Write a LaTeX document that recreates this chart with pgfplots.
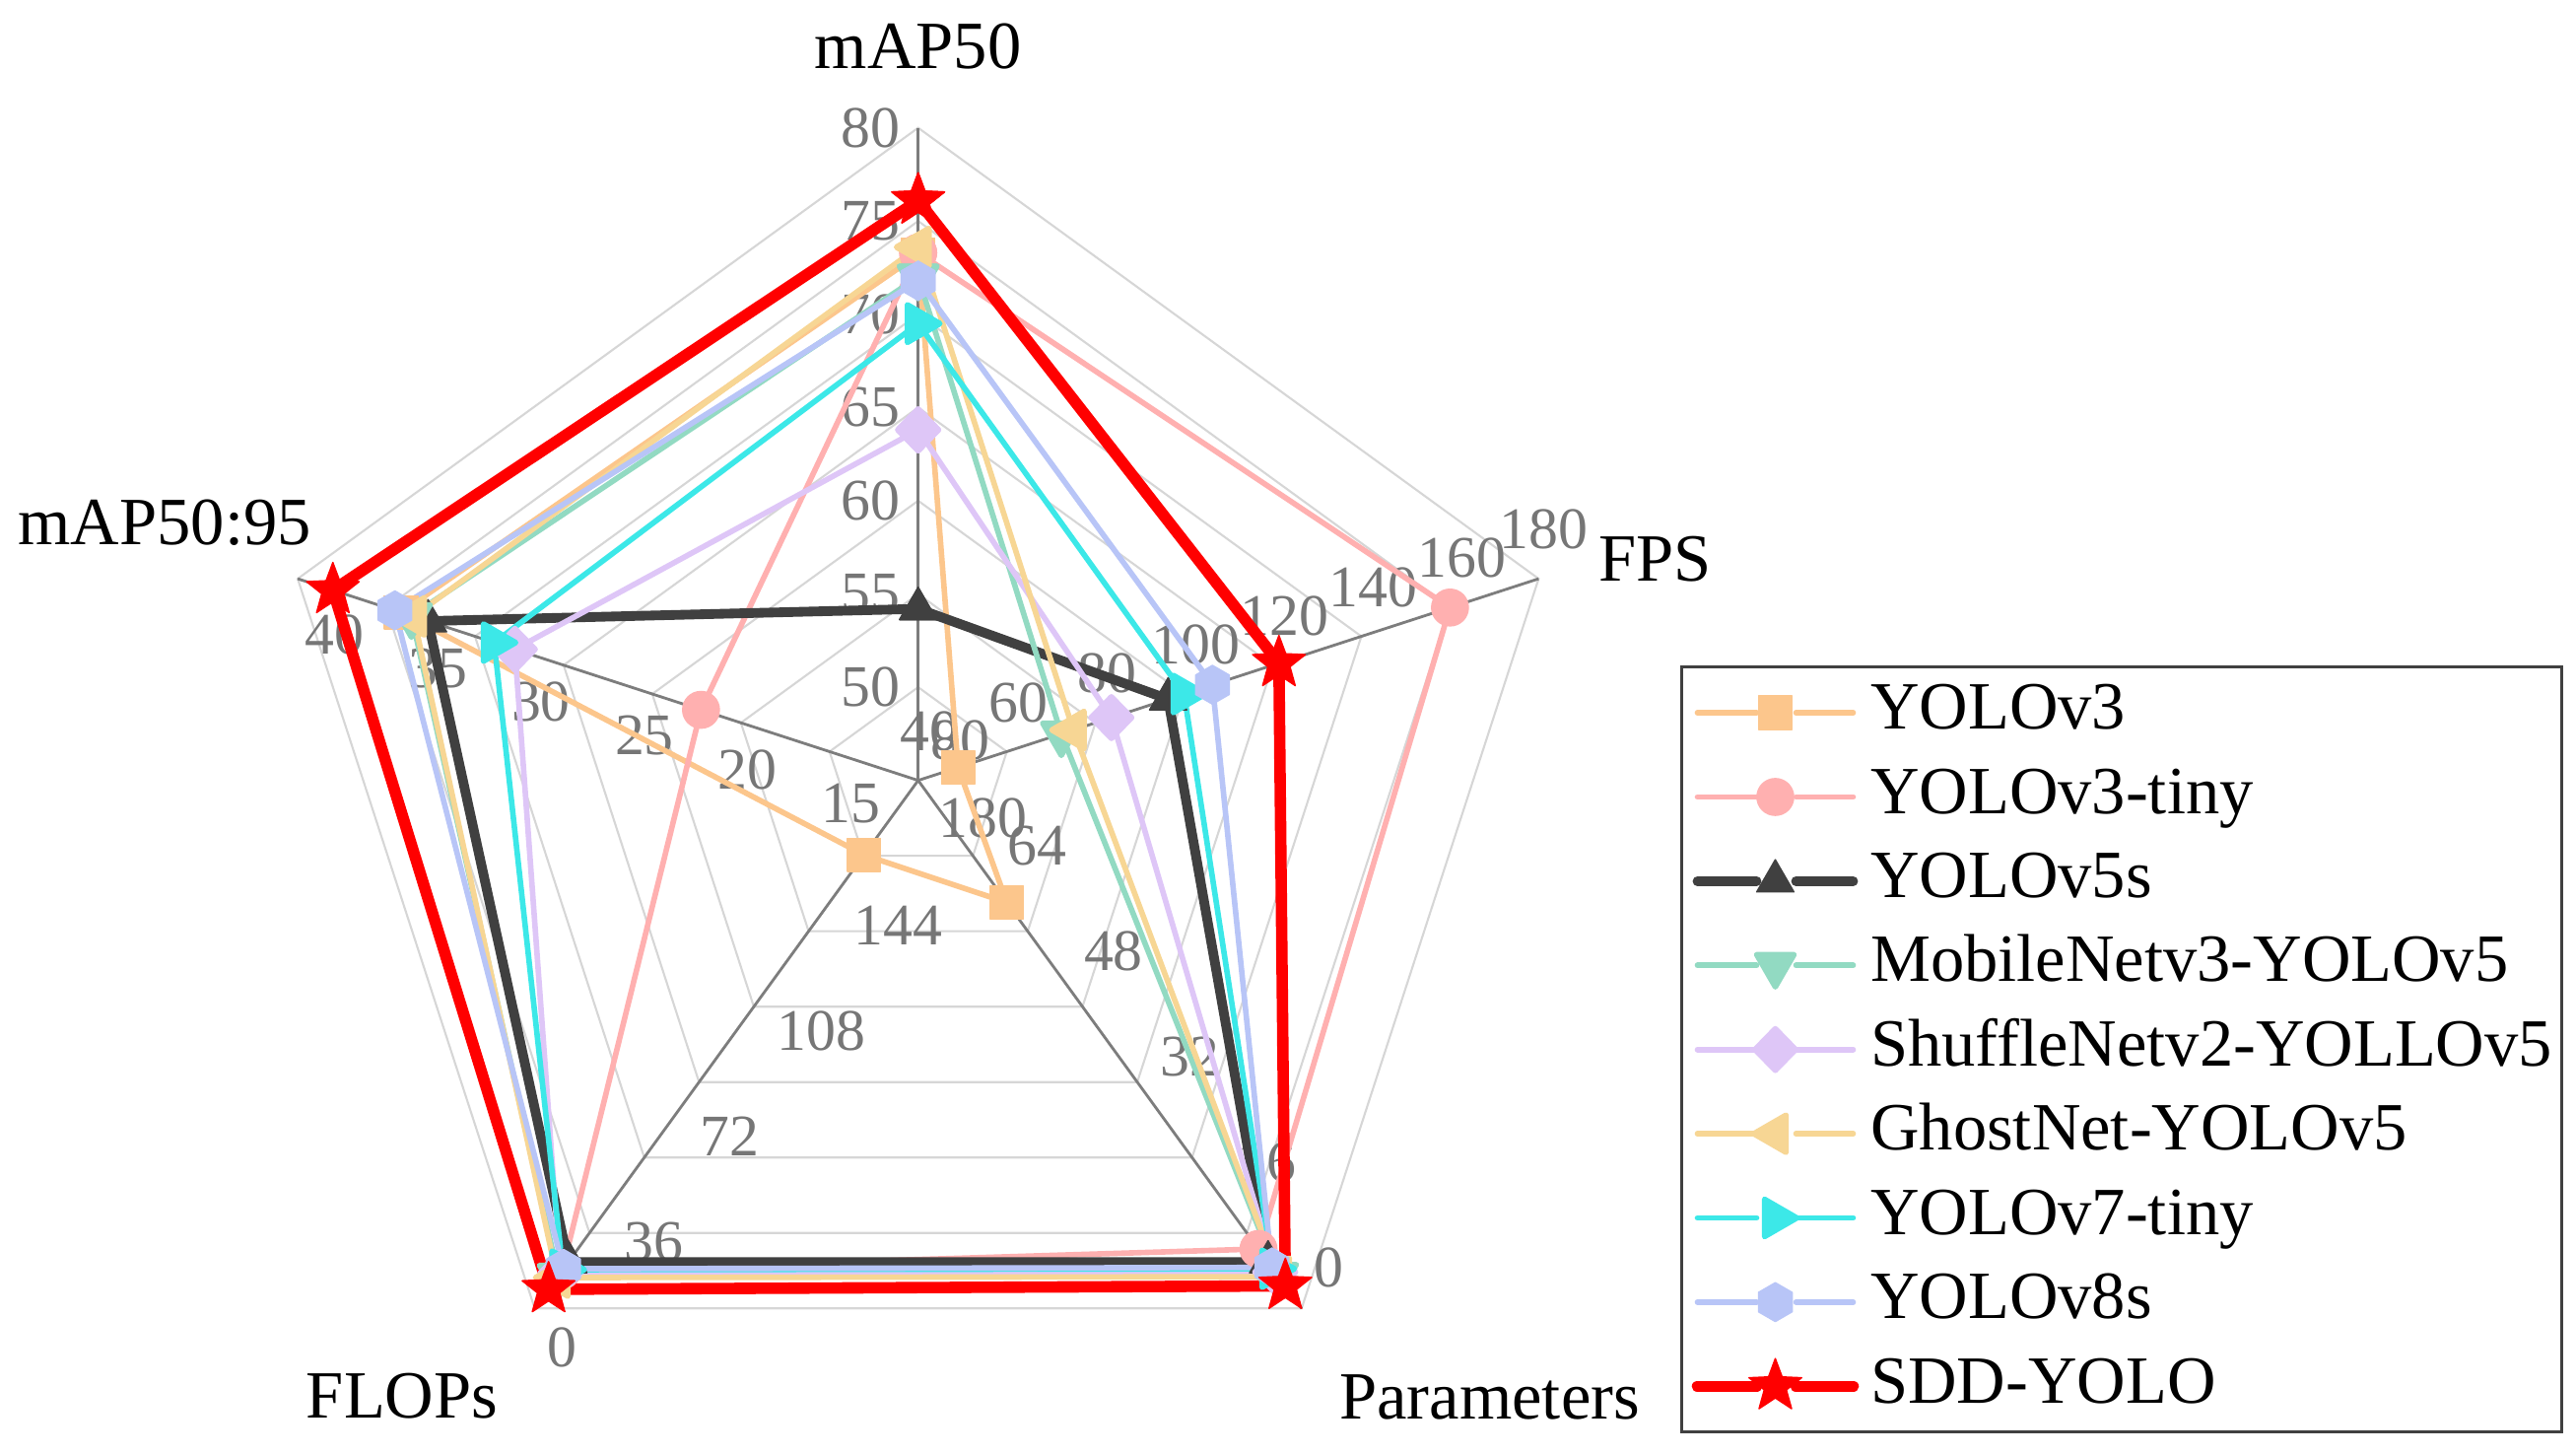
\documentclass[border=0pt]{standalone}
\usepackage{fontspec}
\setmainfont{Liberation Serif}
\usepackage{pgfplots}
\usepackage{pgfplotstable}
\pgfplotsset{compat=1.18}
\usetikzlibrary{plotmarks}

\definecolor{cA}{RGB}{252,198,140}
\definecolor{cB}{RGB}{255,176,176}
\definecolor{cC}{RGB}{64,64,64}
\definecolor{cD}{RGB}{146,218,194}
\definecolor{cE}{RGB}{222,198,247}
\definecolor{cF}{RGB}{247,214,148}
\definecolor{cG}{RGB}{60,232,232}
\definecolor{cH}{RGB}{184,197,247}
\definecolor{cI}{RGB}{255,0,0}
\definecolor{ringc}{RGB}{214,214,214}
\definecolor{spokec}{RGB}{125,125,125}
\definecolor{tickc}{RGB}{118,118,118}

\pgfdeclareplotmark{hexagon*}{%
  \pgfpathmoveto{\pgfpointpolar{90}{\pgfplotmarksize}}%
  \pgfpathlineto{\pgfpointpolar{150}{\pgfplotmarksize}}%
  \pgfpathlineto{\pgfpointpolar{210}{\pgfplotmarksize}}%
  \pgfpathlineto{\pgfpointpolar{270}{\pgfplotmarksize}}%
  \pgfpathlineto{\pgfpointpolar{330}{\pgfplotmarksize}}%
  \pgfpathlineto{\pgfpointpolar{30}{\pgfplotmarksize}}%
  \pgfpathclose\pgfusepathqfillstroke}
\pgfdeclareplotmark{fstar}{%
  \pgfpathmoveto{\pgfpointpolar{90}{\pgfplotmarksize}}%
  \pgfpathlineto{\pgfpointpolar{126}{0.42*\pgfplotmarksize}}%
  \pgfpathlineto{\pgfpointpolar{162}{\pgfplotmarksize}}%
  \pgfpathlineto{\pgfpointpolar{198}{0.42*\pgfplotmarksize}}%
  \pgfpathlineto{\pgfpointpolar{234}{\pgfplotmarksize}}%
  \pgfpathlineto{\pgfpointpolar{270}{0.42*\pgfplotmarksize}}%
  \pgfpathlineto{\pgfpointpolar{306}{\pgfplotmarksize}}%
  \pgfpathlineto{\pgfpointpolar{342}{0.42*\pgfplotmarksize}}%
  \pgfpathlineto{\pgfpointpolar{18}{\pgfplotmarksize}}%
  \pgfpathlineto{\pgfpointpolar{54}{0.42*\pgfplotmarksize}}%
  \pgfpathclose\pgfusepathqfillstroke}

% rows: radar axes (angle, value at centre, value at rim); columns: models
\pgfplotstableread{
ang  lo  hi  v3    v3t   v5s   mob   shf   gho   v7t   v8s   sdd
90   45  80  73.2  73.3  54.2  72.0  63.8  73.6  69.5  71.8  76.1
18   40  180 49    160   96.4  72.3  83.6  75.0  100   106.4 121.4
-54  80  0   61.5  9.0   7.0   5.0   5.5   4.8   6.0   6.2   3.4
-126 180 0   154.6 12.9  15.8  11.0  12.0  10.5  13.2  13.5  6.5
162  10  40  35.0  20.5  33.7  34.5  29.5  34.4  30.5  35.3  38.3
90   45  80  73.2  73.3  54.2  72.0  63.8  73.6  69.5  71.8  76.1
}\radardata

\newcommand\rr[1]{((\thisrow{#1}-\thisrow{lo})/(\thisrow{hi}-\thisrow{lo}))}
\newcommand\rp[2]{(axis cs:{(#1)*cos(#2)},{(#1)*sin(#2)})}

\tikzset{
  tlab/.style={font=\fontsize{17}{20}\selectfont, text=tickc, inner sep=0pt},
  ttl/.style={font=\fontsize{19.5}{23}\selectfont, text=black, inner sep=0pt},
}
\pgfplotsset{
  ser/.style={color=#1, line width=1.6pt, line join=round, line cap=round,
    mark options={solid, fill=#1, draw=#1, line width=0.4pt}},
}

\begin{document}
\begin{tikzpicture}
\begin{axis}[
  x=6.62cm, y=6.62cm,
  xmin=-1.4074, xmax=2.5412, ymin=-1.0337, ymax=1.1959,
  enlargelimits=false,
  hide axis, clip=false,
  legend cell align=left,
  legend image code/.code={%
    \draw[#1,mark=none] (0cm,0cm) -- (0.6cm,0cm);
    \draw[#1,mark=none] (1.0cm,0cm) -- (1.58cm,0cm);
    \draw[#1,only marks] plot coordinates {(0.79cm,0cm)};
  },
  legend style={
    at={(0.6523,0.5427)}, anchor=north west,
    draw=black!75, line width=0.9pt, fill=white,
    font=\fontsize{19.5}{23}\selectfont,
    inner xsep=0.1cm, inner ysep=0.14cm,
    row sep=5.8pt, column sep=0.12cm,
    nodes={inner sep=0pt, text height=14pt, text depth=4.5pt},
  },
]
\path (rel axis cs:0,0) rectangle (rel axis cs:1,1);

% grid rings
\pgfplotsinvokeforeach{1,...,7}{
  \draw[ringc, line width=0.6pt] \rp{#1/7}{90} -- \rp{#1/7}{18} -- \rp{#1/7}{-54} -- \rp{#1/7}{-126} -- \rp{#1/7}{162} -- cycle;
}
% spokes
\draw[spokec, line width=0.8pt] \rp{0}{0} -- \rp{1}{90};
\draw[spokec, line width=0.8pt] \rp{0}{0} -- \rp{1}{18};
\draw[spokec, line width=0.8pt] \rp{0}{0} -- \rp{1}{-54};
\draw[spokec, line width=0.8pt] \rp{0}{0} -- \rp{1}{-126};
\draw[spokec, line width=0.8pt] \rp{0}{0} -- \rp{1}{162};

% tick labels: mAP50
\node[tlab, anchor=east, xshift=-0.18cm] at \rp{1/7}{90} {50};
\node[tlab, anchor=east, xshift=-0.18cm] at \rp{2/7}{90} {55};
\node[tlab, anchor=east, xshift=-0.18cm] at \rp{3/7}{90} {60};
\node[tlab, anchor=east, xshift=-0.18cm] at \rp{4/7}{90} {65};
\node[tlab, anchor=east, xshift=-0.18cm] at \rp{5/7}{90} {70};
\node[tlab, anchor=east, xshift=-0.18cm] at \rp{6/7}{90} {75};
\node[tlab, anchor=east, xshift=-0.18cm] at \rp{1}{90} {80};
% FPS
\node[tlab, xshift=0.12cm, yshift=0.5cm] at \rp{0}{18} {40};
\node[tlab, xshift=0.12cm, yshift=0.5cm] at \rp{1/7}{18} {60};
\node[tlab, xshift=0.12cm, yshift=0.5cm] at \rp{2/7}{18} {80};
\node[tlab, xshift=0.12cm, yshift=0.5cm] at \rp{3/7}{18} {100};
\node[tlab, xshift=0.12cm, yshift=0.5cm] at \rp{4/7}{18} {120};
\node[tlab, xshift=0.12cm, yshift=0.5cm] at \rp{5/7}{18} {140};
\node[tlab, xshift=0.12cm, yshift=0.5cm] at \rp{6/7}{18} {160};
\node[tlab, xshift=0.05cm, yshift=0.5cm] at \rp{1}{18} {180};
% Parameters
\node[tlab, anchor=west, xshift=0.12cm, yshift=0.41cm] at \rp{0}{-54} {80};
\node[tlab, anchor=west, xshift=0.12cm, yshift=0.41cm] at \rp{0.2}{-54} {64};
\node[tlab, anchor=west, xshift=0.12cm, yshift=0.41cm] at \rp{0.4}{-54} {48};
\node[tlab, anchor=west, xshift=0.12cm, yshift=0.41cm] at \rp{0.6}{-54} {32};
\node[tlab, anchor=west, xshift=0.12cm, yshift=0.41cm] at \rp{0.8}{-54} {16};
\node[tlab, anchor=west, xshift=0.12cm, yshift=0.41cm] at \rp{1}{-54} {0};
% FLOPs
\node[tlab, anchor=west, xshift=0.2cm, yshift=-0.38cm] at \rp{0}{-126} {180};
\node[tlab, anchor=west, xshift=0.12cm, yshift=-0.4cm] at \rp{0.2}{-126} {144};
\node[tlab, anchor=west, xshift=0.12cm, yshift=-0.4cm] at \rp{0.4}{-126} {108};
\node[tlab, anchor=west, xshift=0.12cm, yshift=-0.4cm] at \rp{0.6}{-126} {72};
\node[tlab, anchor=west, xshift=0.12cm, yshift=-0.4cm] at \rp{0.8}{-126} {36};
\node[tlab, anchor=west, xshift=0.12cm, yshift=-0.4cm] at \rp{1}{-126} {0};
% mAP50:95
\node[tlab, xshift=0.37cm, yshift=-0.57cm] at \rp{1/6}{162} {15};
\node[tlab, xshift=0.37cm, yshift=-0.57cm] at \rp{2/6}{162} {20};
\node[tlab, xshift=0.37cm, yshift=-0.57cm] at \rp{3/6}{162} {25};
\node[tlab, xshift=0.37cm, yshift=-0.57cm] at \rp{4/6}{162} {30};
\node[tlab, xshift=0.37cm, yshift=-0.57cm] at \rp{5/6}{162} {35};
\node[tlab, xshift=0.37cm, yshift=-0.57cm] at \rp{1}{162} {40};

% axis titles
\node[ttl] at (axis cs:0,1.125) {mAP50};
\node[ttl] at (axis cs:1.13,0.339) {FPS};
\node[ttl] at (axis cs:0.876,-0.945) {Parameters};
\node[ttl] at (axis cs:-0.791,-0.944) {FLOPs};
\node[ttl] at (axis cs:-1.155,0.395) {mAP50:95};

% series
\addplot[ser=cA, mark=square*, mark size=4.8pt]
  table[x expr={\rr{v3}*cos(\thisrow{ang})}, y expr={\rr{v3}*sin(\thisrow{ang})}] {\radardata};
\addlegendentry{YOLOv3}
\addplot[ser=cB, mark=*, mark size=5.3pt]
  table[x expr={\rr{v3t}*cos(\thisrow{ang})}, y expr={\rr{v3t}*sin(\thisrow{ang})}] {\radardata};
\addlegendentry{YOLOv3-tiny}
\addplot[ser=cC, line width=2.8pt, mark=triangle*, mark size=6.2pt]
  table[x expr={\rr{v5s}*cos(\thisrow{ang})}, y expr={\rr{v5s}*sin(\thisrow{ang})}] {\radardata};
\addlegendentry{YOLOv5s}
\addplot[ser=cD, mark=triangle*, mark size=6.2pt, mark options={rotate=180}]
  table[x expr={\rr{mob}*cos(\thisrow{ang})}, y expr={\rr{mob}*sin(\thisrow{ang})}] {\radardata};
\addlegendentry{MobileNetv3-YOLOv5}
\addplot[ser=cE, mark=diamond*, mark size=6pt, mark options={xscale=1.3}]
  table[x expr={\rr{shf}*cos(\thisrow{ang})}, y expr={\rr{shf}*sin(\thisrow{ang})}] {\radardata};
\addlegendentry{ShuffleNetv2-YOLLOv5}
\addplot[ser=cF, mark=triangle*, mark size=6.2pt, mark options={rotate=90}]
  table[x expr={\rr{gho}*cos(\thisrow{ang})}, y expr={\rr{gho}*sin(\thisrow{ang})}] {\radardata};
\addlegendentry{GhostNet-YOLOv5}
\addplot[ser=cG, mark=triangle*, mark size=6.2pt, mark options={rotate=-90}]
  table[x expr={\rr{v7t}*cos(\thisrow{ang})}, y expr={\rr{v7t}*sin(\thisrow{ang})}] {\radardata};
\addlegendentry{YOLOv7-tiny}
\addplot[ser=cH, mark=hexagon*, mark size=5.6pt]
  table[x expr={\rr{v8s}*cos(\thisrow{ang})}, y expr={\rr{v8s}*sin(\thisrow{ang})}] {\radardata};
\addlegendentry{YOLOv8s}
\addplot[ser=cI, line width=3.3pt, mark=fstar, mark size=8pt]
  table[x expr={\rr{sdd}*cos(\thisrow{ang})}, y expr={\rr{sdd}*sin(\thisrow{ang})}] {\radardata};
\addlegendentry{SDD-YOLO}
\end{axis}
\end{tikzpicture}
\end{document}
